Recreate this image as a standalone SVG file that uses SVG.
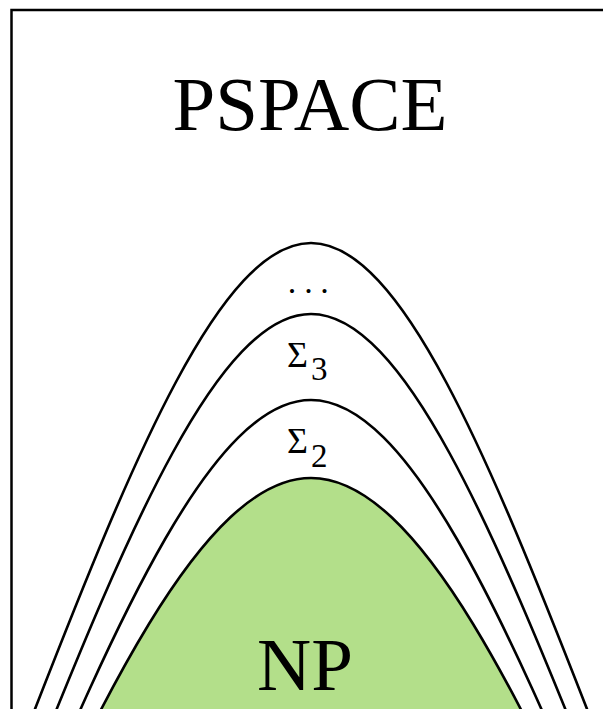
<svg xmlns="http://www.w3.org/2000/svg" width="603" height="709" viewBox="0 0 603 709">
  <style>
    .arch { fill: none; stroke: #000; stroke-width: 2.6; }
    .np { fill: #b3df8a; stroke: #000; stroke-width: 2.6; }
    .lbl { font-family: "Liberation Serif", "DejaVu Serif", serif; fill: #000; }
  </style>
  <rect width="603" height="709" fill="#fff"/>
  <g id="pspace">
    <rect x="11.5" y="10" width="700" height="800" fill="none" stroke="#000" stroke-width="2.5"/>
    <text class="lbl" x="310" y="130" font-size="76" text-anchor="middle" textLength="275" lengthAdjust="spacingAndGlyphs">PSPACE</text>
  </g>
  <g id="dots">
    <path class="arch" d="M 23.3 739 L 35 709 C 132.5 459 221 243 311 243 C 401 243 489.5 459 587 709 L 598.7 739"/>
    <text class="lbl" x="287.7 304.3 320.3" y="293" font-size="34">...</text>
  </g>
  <g id="sigma3">
    <path class="arch" d="M 28.1 780 C 128 530 218.75 314 311 314 C 403.25 314 494 530 593.9 780"/>
    <text class="lbl" x="287" y="367" font-size="36">Σ</text>
    <text class="lbl" x="311" y="380" font-size="33">3</text>
  </g>
  <g id="sigma2">
    <path class="arch" d="M 12.9 866 C 118.2 616 213.8 400 311 400 C 408.2 400 503.8 616 609.1 866"/>
    <text class="lbl" x="287" y="453" font-size="36">Σ</text>
    <text class="lbl" x="311" y="467" font-size="33">2</text>
  </g>
  <g id="np">
    <path class="np" d="M -20.2 967.3 C 96.8 704.8 203 478 311 478 C 419 478 525.2 704.8 642.2 967.3 Z"/>
    <text class="lbl" x="305" y="690" font-size="75" text-anchor="middle">NP</text>
  </g>
  <g id="connectors"/>
</svg>
